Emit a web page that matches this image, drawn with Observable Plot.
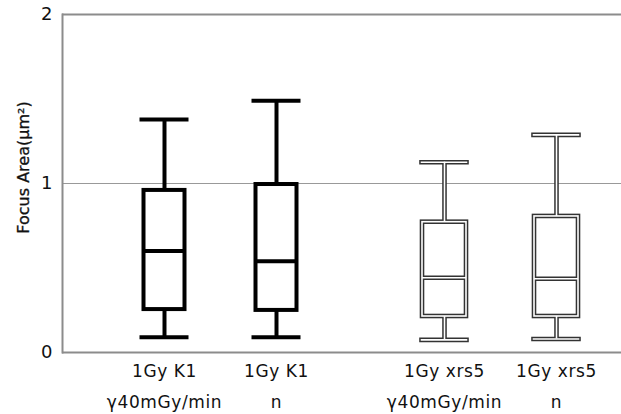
<!DOCTYPE html>
<html>
<head>
<meta charset="utf-8">
<script src="https://cdn.jsdelivr.net/npm/d3@7"></script>
<script src="https://cdn.jsdelivr.net/npm/@observablehq/plot@0.6"></script>
<style>
  html, body { margin: 0; padding: 0; background: #fff; }
  svg { display: block; }
  g[aria-label="x-axis tick label"] text { letter-spacing: 0.6px; }
</style>
</head>
<body>
<div id="chart"></div>
<script>
// ---- data ----
const groups = ["1Gy K1\nγ40mGy/min", "1Gy K1\nn", "1Gy xrs5\nγ40mGy/min", "1Gy xrs5\nn"];
const strain = ["K1", "K1", "xrs5", "xrs5"];
const whiskerLow = [0.09, 0.09, 0.075, 0.08];
const q1 = [0.254, 0.249, 0.213, 0.213];
const median = [0.60, 0.54, 0.442, 0.436];
const q3 = [0.959, 0.994, 0.771, 0.805];
const whiskerHigh = [1.379, 1.49, 1.126, 1.288];
const yTicks = [0, 1, 2];
const yLabel = "Focus Area(μm²)";

const rows = groups.map((g, i) => ({
  group: g, strain: strain[i], lo: whiskerLow[i], q1: q1[i],
  med: median[i], q3: q3[i], hi: whiskerHigh[i]
}));
const k1 = rows.filter(d => d.strain === "K1");
const xr = rows.filter(d => d.strain === "xrs5");

// x domain with spacer slots to reproduce the gap between the two strains
const xDomain = [groups[0], "_s1", groups[1], "_s2", "_s3", groups[2], "_s4", groups[3]];

function boxMarks(data, stroke, sw, boxInset, capInset) {
  return [
    Plot.ruleX(data, {x: "group", y1: "q3", y2: "hi", stroke, strokeWidth: sw}),
    Plot.ruleX(data, {x: "group", y1: "lo", y2: "q1", stroke, strokeWidth: sw}),
    Plot.tickY(data, {x: "group", y: "hi", stroke, strokeWidth: sw, insetLeft: capInset, insetRight: capInset, strokeLinecap: "square"}),
    Plot.tickY(data, {x: "group", y: "lo", stroke, strokeWidth: sw, insetLeft: capInset, insetRight: capInset, strokeLinecap: "square"}),
    Plot.rect(data, {x: "group", y1: "q1", y2: "q3", stroke, strokeWidth: sw, fill: "none", insetLeft: boxInset, insetRight: boxInset}),
    Plot.tickY(data, {x: "group", y: "med", stroke, strokeWidth: sw, insetLeft: boxInset, insetRight: boxInset})
  ];
}

const chart = Plot.plot({
  width: 621,
  height: 414,
  marginLeft: 62,
  marginRight: 0,
  marginTop: 14,
  marginBottom: 62,
  style: {fontFamily: "DejaVu Sans", color: "#111", background: "#fff"},
  x: {type: "band", domain: xDomain, range: [135, 585], padding: 0},
  y: {domain: [0, 2]},
  marks: [
    Plot.ruleY([1], {stroke: "#999", strokeWidth: 1}),
    Plot.ruleY([0, 2], {stroke: "#8c8c8c", strokeWidth: 2}),
    Plot.frame({anchor: "left", stroke: "#8c8c8c", strokeWidth: 2}),
    Plot.axisY({ticks: yTicks, tickFormat: d3.format("d"), tickSize: 0, tickPadding: 10, fontSize: 18,
                stroke: "#111", strokeWidth: 0.3, label: null}),
    Plot.text([yLabel], {frameAnchor: "left", textAnchor: "middle", rotate: -90, dx: -39, dy: -16,
                         fontSize: 16, fill: "#111", stroke: "#111", strokeWidth: 0.3}),
    Plot.axisX({ticks: groups, tickSize: 0, tickPadding: 3, fontSize: 17, lineHeight: 1.8,
                stroke: "#111", strokeWidth: 0.3, label: null}),
    ...boxMarks(k1, "#000", 4, 7.5, 5.5),
    ...boxMarks(xr, "#333", 4.6, 6, 5.5),
    ...boxMarks(xr, "#fff", 1.6, 6, 5.5)
  ]
});
document.getElementById("chart").appendChild(chart);
</script>
</body>
</html>
